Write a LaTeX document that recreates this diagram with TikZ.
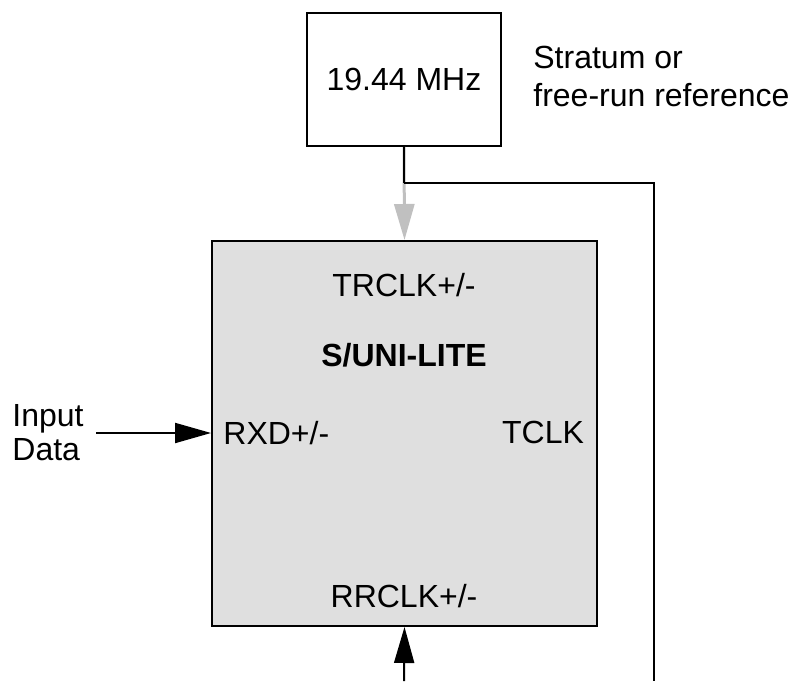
\documentclass[tikz,border=0pt]{standalone}
\usepackage{fontspec}
\setmainfont{Liberation Sans}
\usetikzlibrary{arrows.meta,positioning,calc}
\definecolor{Ink}{HTML}{000000}
\definecolor{ChipFill}{HTML}{DFDFDF}
\definecolor{RefArrow}{HTML}{C0C0C0}

\begin{document}
\begin{tikzpicture}[x=0.5pt,y=-0.5pt,>={Triangle[length=18pt,width=10pt]},font=\fontsize{16}{19}\selectfont]
\useasboundingbox (0,0) rectangle (793,681);
\node[draw=Ink,line width=1pt,minimum width=97pt,minimum height=66.5pt,inner sep=0pt] (osc) at (404,79.5) {19.44 MHz};
\node[anchor=west,align=left,inner sep=0pt] (ref) at (533,76) {Stratum or\\free-run reference};
\node[draw=Ink,fill=ChipFill,line width=1pt,minimum width=192.5pt,minimum height=192.5pt,inner sep=0pt] (chip) at (404.5,433.5) {};
\node (trclk) at (404,285) {TRCLK+/-};
\node[font=\fontsize{16}{19}\selectfont\bfseries] (title) at (404,355) {S/UNI-LITE};
\node[anchor=west,inner sep=0pt] (rxd) at (223,433) {RXD+/-};
\node (tclk) at (543,432) {TCLK};
\node (rrclk) at (404,596) {RRCLK+/-};
\node[anchor=west,align=left,inner sep=0pt,font=\fontsize{16}{17}\selectfont] (input) at (12,433) {Input\\Data};
\coordinate (tap) at (404,183);
\coordinate (corner) at (654,183);
\coordinate (railend) at (654,681);
\coordinate (datain) at (96,433);
\coordinate (rrin) at (404,681);
% reference clock
\draw[->,RefArrow,line width=1.5pt] (osc.south) -- (chip.north);
\draw[Ink,line width=1pt] (osc.south) -- (tap);
\draw[Ink,line width=1pt] (tap) -- (corner) -- (railend);
% data and recovered clock
\draw[->,Ink,line width=1pt] (datain) -- (datain -| chip.west);
\draw[->,Ink,line width=1pt] (rrin) -- (chip.south);
\end{tikzpicture}
\end{document}
